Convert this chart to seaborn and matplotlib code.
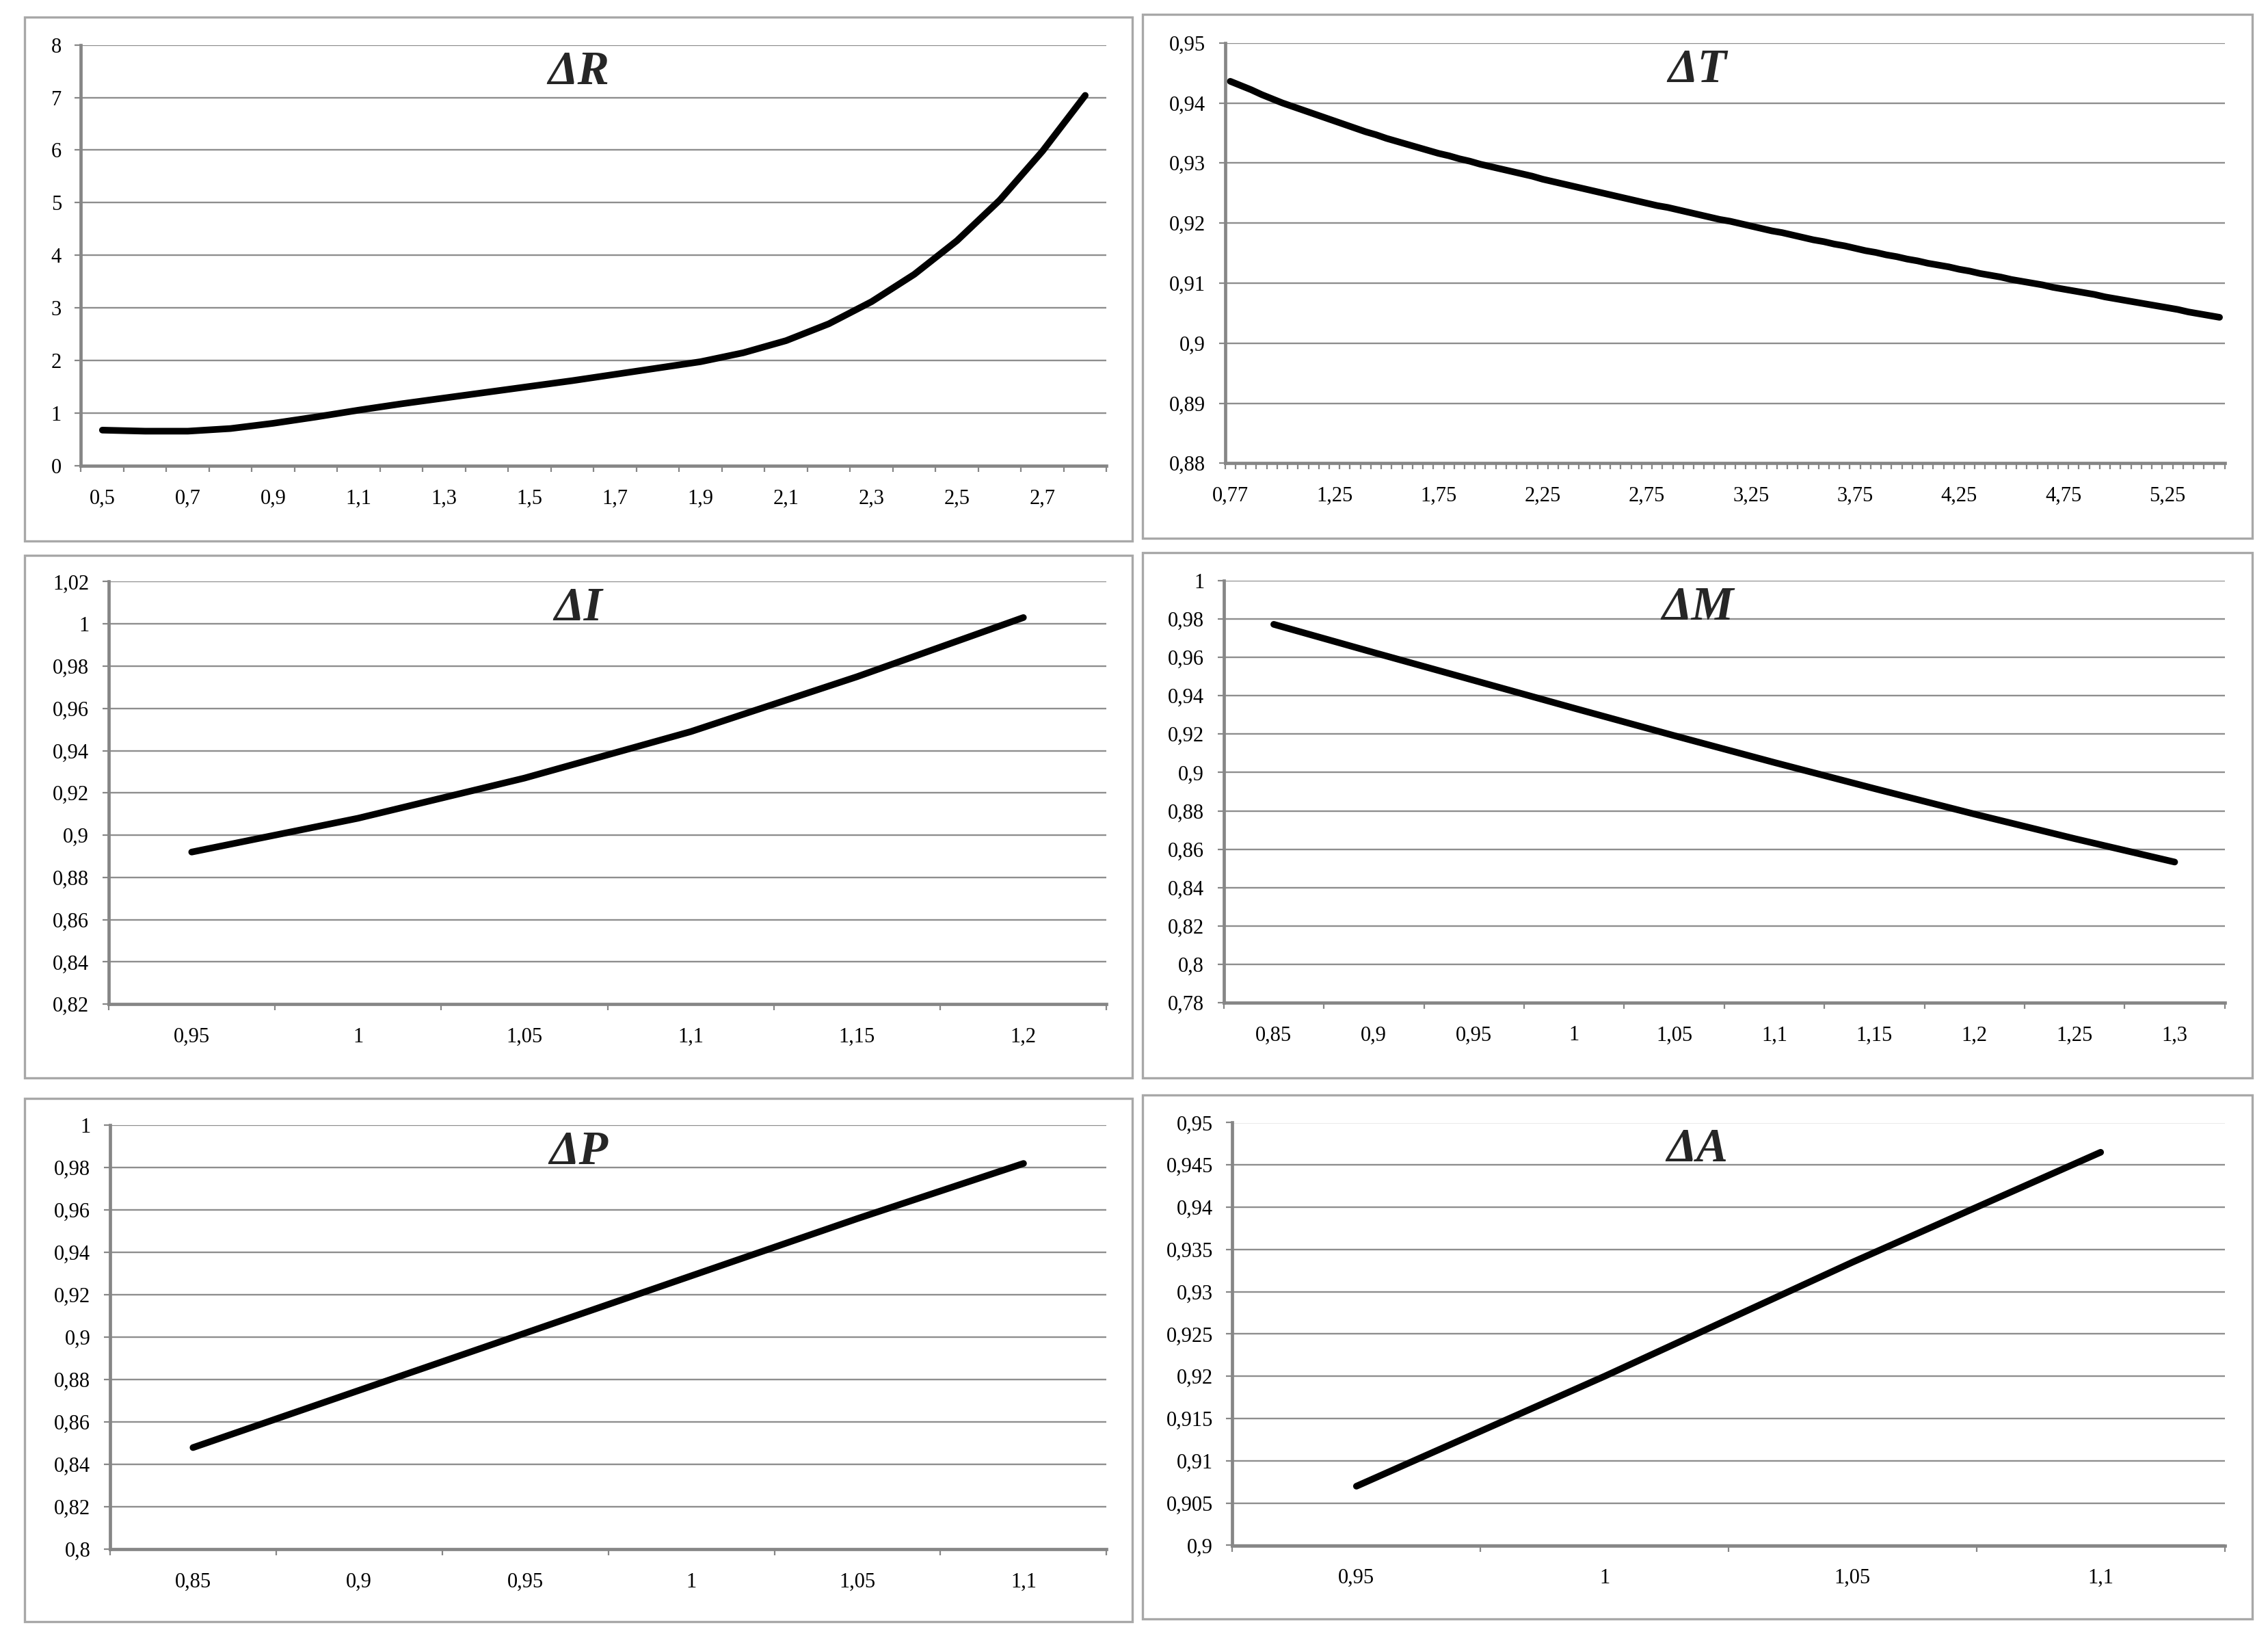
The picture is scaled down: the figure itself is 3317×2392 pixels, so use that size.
import matplotlib
matplotlib.use('Agg')
import matplotlib.pyplot as plt
import seaborn as sns
import numpy as np
import pandas as pd
from matplotlib.patches import Rectangle

# ---- data ----
r_x = [0.5, 0.6, 0.7, 0.8, 0.9, 1.0, 1.1, 1.2, 1.3, 1.4, 1.5, 1.6,
       1.7, 1.8, 1.9, 2.0, 2.1, 2.2, 2.3, 2.4, 2.5, 2.6, 2.7, 2.8]
r_y = [0.68, 0.66, 0.66, 0.71, 0.81, 0.93, 1.06, 1.18, 1.29, 1.40, 1.51, 1.62,
       1.74, 1.86, 1.98, 2.15, 2.38, 2.70, 3.12, 3.64, 4.28, 5.05, 5.98, 7.04]
r_ticks = [0, 1, 2, 3, 4, 5, 6, 7, 8]

t_x = [0.77] + [round(v, 2) for v in np.arange(0.80, 5.501, 0.05)]
t_y = [0.9436, 0.9429, 0.9422, 0.9414, 0.9407, 0.9400, 0.9394, 0.9388, 0.9382, 0.9376,
       0.9370, 0.9364, 0.9358, 0.9352, 0.9347, 0.9341, 0.9336, 0.9331, 0.9326, 0.9321,
       0.9316, 0.9312, 0.9307, 0.9303, 0.9298, 0.9294, 0.9290, 0.9286, 0.9282, 0.9278,
       0.9273, 0.9269, 0.9265, 0.9261, 0.9257, 0.9253, 0.9249, 0.9245, 0.9241, 0.9237,
       0.9233, 0.9229, 0.9226, 0.9222, 0.9218, 0.9214, 0.9210, 0.9206, 0.9203, 0.9199,
       0.9195, 0.9191, 0.9187, 0.9184, 0.9180, 0.9176, 0.9172, 0.9169, 0.9165, 0.9162,
       0.9158, 0.9154, 0.9151, 0.9147, 0.9144, 0.9140, 0.9137, 0.9133, 0.9130, 0.9127,
       0.9123, 0.9120, 0.9116, 0.9113, 0.9110, 0.9106, 0.9103, 0.9100, 0.9097, 0.9093,
       0.9090, 0.9087, 0.9084, 0.9081, 0.9077, 0.9074, 0.9071, 0.9068, 0.9065, 0.9062,
       0.9059, 0.9056, 0.9052, 0.9049, 0.9046, 0.9043]
t_ticks = [0.88, 0.89, 0.90, 0.91, 0.92, 0.93, 0.94, 0.95]

i_x = [0.95, 1.0, 1.05, 1.1, 1.15, 1.2]
i_y = [0.892, 0.908, 0.927, 0.949, 0.975, 1.003]
i_ticks = [0.82, 0.84, 0.86, 0.88, 0.90, 0.92, 0.94, 0.96, 0.98, 1.0, 1.02]

m_x = [0.85, 0.9, 0.95, 1.0, 1.05, 1.1, 1.15, 1.2, 1.25, 1.3]
m_y = [0.9772, 0.9625, 0.9480, 0.9335, 0.9192, 0.9052, 0.8916, 0.8783, 0.8655, 0.8533]
m_ticks = [0.78, 0.80, 0.82, 0.84, 0.86, 0.88, 0.90, 0.92, 0.94, 0.96, 0.98, 1.0]

p_x = [0.85, 0.9, 0.95, 1.0, 1.05, 1.1]
p_y = [0.848, 0.875, 0.902, 0.929, 0.956, 0.982]
p_ticks = [0.80, 0.82, 0.84, 0.86, 0.88, 0.90, 0.92, 0.94, 0.96, 0.98, 1.0]

a_x = [0.95, 1.0, 1.05, 1.1]
a_y = [0.907, 0.920, 0.9335, 0.9465]
a_ticks = [0.900, 0.905, 0.910, 0.915, 0.920, 0.925, 0.930, 0.935, 0.940, 0.945, 0.950]

# ---- layout (pixel boxes of the original, full size) ----
W, H = 3317, 2392
panels = [
    dict(title='ΔR', box=(36, 25, 1656, 791), plot=(118.5, 65.6, 1618.4, 681.2),
         x=r_x, y=r_y, ticks=r_ticks, every=2),
    dict(title='ΔT', box=(1671, 21, 3294, 787), plot=(1791.7, 62.7, 3253.7, 677.3),
         x=t_x, y=t_y, ticks=t_ticks, every=10),
    dict(title='ΔI', box=(36, 812, 1656, 1576), plot=(158.7, 850.4, 1618.4, 1468.2),
         x=i_x, y=i_y, ticks=i_ticks, every=1),
    dict(title='ΔM', box=(1671, 808, 3294, 1576), plot=(1789.7, 848.9, 3253.7, 1466.0),
         x=m_x, y=m_y, ticks=m_ticks, every=1),
    dict(title='ΔP', box=(36, 1606, 1656, 2371), plot=(160.8, 1645.3, 1618.4, 2265.3),
         x=p_x, y=p_y, ticks=p_ticks, every=1),
    dict(title='ΔA', box=(1671, 1601, 3294, 2367), plot=(1802.4, 1641.5, 3253.6, 2259.5),
         x=a_x, y=a_y, ticks=a_ticks, every=1),
]

AXIS_GRAY = '#868686'
GRID_GRAY = '#8e8e8e'

sns.set_style('white')
plt.rcParams['font.family'] = ['Liberation Serif', 'DejaVu Serif']


def fmt(v):
    return f"{v:g}".replace('.', ',')


def draw_panel(fig, p):
    bx0, by0, bx1, by1 = p['box']
    fig.add_artist(Rectangle((bx0 / W, 1 - by1 / H), (bx1 - bx0) / W, (by1 - by0) / H,
                             transform=fig.transFigure, fill=False,
                             ec='#a8a8a8', lw=2.4))

    x0, y0, x1, y1 = p['plot']
    ax = fig.add_axes([x0 / W, 1 - y1 / H, (x1 - x0) / W, (y1 - y0) / H])
    n = len(p['x'])
    df = pd.DataFrame({'pos': np.arange(n), 'val': p['y']})
    sns.lineplot(data=df, x='pos', y='val', ax=ax, color='black', lw=7,
                 sort=False, estimator=None, solid_capstyle='round', zorder=5)

    ax.set_xlim(-0.5, n - 0.5)
    ax.set_ylim(p['ticks'][0], p['ticks'][-1])
    ax.set_xlabel('')
    ax.set_ylabel('')

    # category boundaries carry the tick marks, centres carry the labels
    ax.set_xticks(np.arange(n + 1) - 0.5)
    ax.set_xticklabels([])
    lab_pos = list(range(0, n, p['every']))
    ax.set_xticks(lab_pos, minor=True)
    ax.set_xticklabels([fmt(p['x'][i]) for i in lab_pos], minor=True)

    ax.set_yticks(p['ticks'])
    ax.set_yticklabels([fmt(v) for v in p['ticks']])

    ax.tick_params(axis='x', which='major', direction='out', length=6.5, width=1.6,
                   color=AXIS_GRAY, bottom=True)
    ax.tick_params(axis='x', which='minor', length=0, pad=24, labelsize=22,
                   labelcolor='black')
    ax.tick_params(axis='y', which='major', direction='out', length=6.5, width=1.6,
                   color=AXIS_GRAY, left=True, pad=14, labelsize=22,
                   labelcolor='black')

    ax.yaxis.grid(True, color=GRID_GRAY, lw=1.7)
    ax.xaxis.grid(False)
    ax.set_axisbelow(True)
    for side in ['top', 'right']:
        ax.spines[side].set_visible(False)
    for side in ['left', 'bottom']:
        ax.spines[side].set_color(AXIS_GRAY)
        ax.spines[side].set_linewidth(3.4)
        ax.spines[side].set_zorder(3)

    cx = (bx0 + bx1) / 2
    fig.text(cx / W, 1 - (y0 + 57) / H, p['title'], ha='center', va='baseline',
             fontsize=50, fontweight='bold', fontstyle='italic', zorder=6)


fig = plt.figure(figsize=(W / 100, H / 100), dpi=100)
fig.patch.set_facecolor('white')
for p in panels:
    draw_panel(fig, p)

fig.savefig('out.png', dpi=100, facecolor='white')
